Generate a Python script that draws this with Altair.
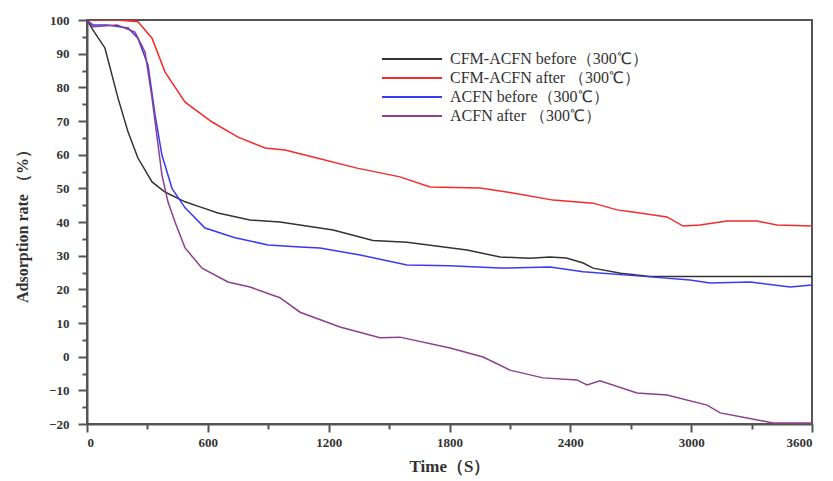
import altair as alt
import pandas as pd

series_names = ["CFM-ACFN before（300℃）", "CFM-ACFN after （300℃）",
                "ACFN before（300℃）", "ACFN after （300℃）"]
series_colors = ["#333333", "#f52a2a", "#3a3af5", "#8e3f8e"]

t_cfm_before = [0, 30, 89, 154, 204, 253, 323, 387, 487, 561, 650, 809, 958, 1222, 1420, 1589,
                1887, 2051, 2200, 2299, 2380, 2464, 2513, 2650, 2796, 3000, 3300, 3600]
v_cfm_before = [100, 97, 91.7, 76.8, 66.7, 59, 51.9, 48.9, 46, 44.5, 42.7, 40.6, 40, 37.6, 34.5, 34,
                31.7, 29.6, 29.2, 29.6, 29.3, 27.8, 26.3, 24.8, 23.8, 23.8, 23.8, 23.8]

t_cfm_after = [0, 150, 253, 323, 387, 487, 621, 750, 884, 983, 1122, 1341, 1554, 1703, 1952, 2115,
               2314, 2513, 2632, 2711, 2880, 2960, 3044, 3178, 3327, 3426, 3600]
v_cfm_after = [100, 100, 99.5, 94.6, 84.6, 75.6, 69.7, 65.2, 62, 61.4, 59.3, 56, 53.4, 50.4, 50.1, 48.6,
               46.5, 45.6, 43.6, 43, 41.5, 38.8, 39.1, 40.3, 40.3, 39.1, 38.8]

t_acfn_before = [0, 30, 100, 204, 253, 303, 338, 372, 422, 487, 586, 735, 899, 1058, 1157, 1356, 1589,
                 1800, 2051, 2299, 2464, 2796, 2994, 3094, 3293, 3491, 3600]
v_acfn_before = [100, 98.5, 98.5, 97.6, 94.6, 86.6, 71.8, 59.9, 50, 44.2, 38.2, 35.3, 33.2, 32.6, 32.3, 30.2, 27.2,
                 27, 26.3, 26.6, 25.2, 23.7, 22.8, 21.9, 22.2, 20.7, 21.3]

t_acfn_after = [0, 30, 150, 238, 288, 323, 372, 402, 437, 487, 571, 700, 809, 958, 1058, 1256, 1455, 1554,
                1803, 1967, 2100, 2264, 2433, 2483, 2547, 2731, 2880, 3079, 3144, 3278, 3407, 3600]
v_acfn_after = [100, 98, 98.5, 96.4, 90.5, 76.8, 54, 46, 40, 32.3, 26.3, 22.2, 20.7, 17.5, 13.2, 8.8, 5.6, 5.8,
                2.6, -0.1, -4, -6.3, -6.9, -8.4, -7.2, -10.8, -11.4, -14.4, -16.7, -18.2, -19.7, -19.7]

x_ticks = [0, 300, 600, 900, 1200, 1500, 1800, 2100, 2400, 2700, 3000, 3300, 3600]
y_ticks = [-20, -15, -10, -5, 0, 5, 10, 15, 20, 25, 30, 35, 40, 45, 50, 55, 60, 65, 70, 75, 80, 85, 90, 95, 100]

frames = []
for name, ts, vs in zip(series_names,
                        [t_cfm_before, t_cfm_after, t_acfn_before, t_acfn_after],
                        [v_cfm_before, v_cfm_after, v_acfn_before, v_acfn_after]):
    frames.append(pd.DataFrame({"time": ts, "rate": vs, "series": name}))
df = pd.concat(frames, ignore_index=True)

FONT = "Liberation Serif"
xscale = alt.Scale(domain=[0, 3600], nice=False)
yscale = alt.Scale(domain=[-20, 100], nice=False)

x_major_test = "datum.value % 600 === 0"
y_major_test = "datum.value % 10 === 0"

lines = alt.Chart(df).mark_line(strokeWidth=1.5, clip=True).encode(
    x=alt.X("time:Q", scale=xscale,
            axis=alt.Axis(values=x_ticks, title="Time（S）", format="d",
                          labelExpr=f"{x_major_test} ? datum.label : ''",
                          tickSize={"condition": {"test": x_major_test, "value": 8}, "value": 5},
                          labelPadding=4, titlePadding=9, labelOverlap=False,
                          labelFont=FONT, labelFontWeight="bold", labelFontSize=13, labelColor="#333",
                          titleFont=FONT, titleFontWeight="bold", titleFontSize=17, titleColor="#333",
                          domainColor="#555", domainWidth=2, tickColor="#555", tickWidth=2,
                          grid=False)),
    y=alt.Y("rate:Q", scale=yscale,
            axis=alt.Axis(values=y_ticks, title="Adsorption rate （%）",
                          labelExpr=f"{y_major_test} ? datum.label : ''",
                          tickSize={"condition": {"test": y_major_test, "value": 9}, "value": 5},
                          labelPadding=9, titleX=-57, labelOverlap=False,
                          labelFont=FONT, labelFontWeight="bold", labelFontSize=13, labelColor="#333",
                          titleFont=FONT, titleFontWeight="bold", titleFontSize=16, titleColor="#333",
                          domainColor="#555", domainWidth=2, tickColor="#555", tickWidth=2,
                          grid=False)),
    color=alt.Color("series:N", sort=series_names,
                    scale=alt.Scale(domain=series_names, range=series_colors),
                    legend=alt.Legend(title=None, orient="none", legendX=314, legendY=28,
                                      symbolType="M-3,0H3", symbolSize=400, symbolStrokeWidth=2,
                                      labelOffset=27,
                                      labelFont=FONT, labelFontSize=16, labelColor="#333",
                                      labelLimit=400, rowPadding=0, padding=0)),
    order=alt.Order("time:Q"),
).properties(
    width=725, height=404,
    autosize=alt.AutoSizeParams(type="none"),
    padding={"left": 79, "top": 12, "right": 13, "bottom": 58},
    background="white",
).configure_view(stroke="#555", strokeWidth=2)

chart = lines
chart.save("out.html", embed_options={"renderer": "svg", "actions": False})
